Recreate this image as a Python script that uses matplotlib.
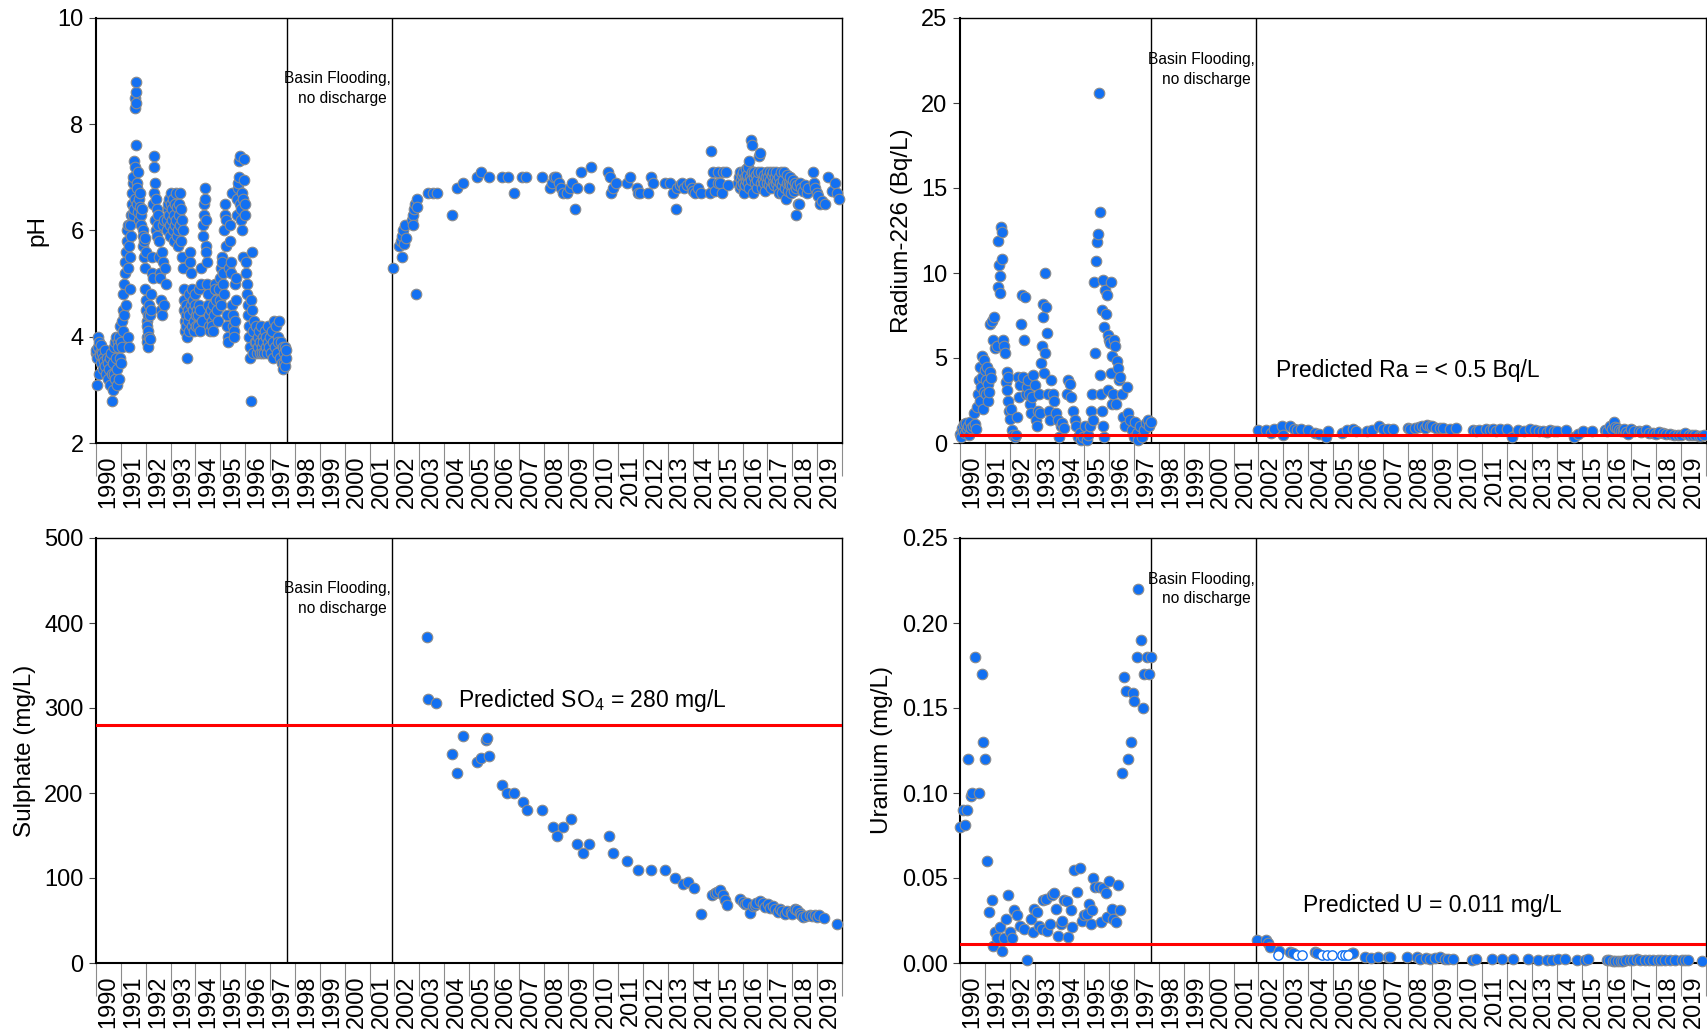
import matplotlib
matplotlib.use("Agg")
import matplotlib.pyplot as plt
import numpy as np

plt.rcParams['font.family'] = ['Liberation Sans', 'DejaVu Sans']
plt.rcParams['mathtext.fontset'] = 'custom'
plt.rcParams['mathtext.rm'] = 'Liberation Sans'
plt.rcParams['mathtext.default'] = 'regular'

# ---------------- data ----------------
years = list(range(1990, 2020))
gap_start, gap_end = 1997.67, 2001.9

ph_early = [
 (1990.00,3.7),(1990.02,3.75),(1990.04,3.1),(1990.05,3.6),(1990.07,4.0),(1990.09,3.8),(1990.11,3.3),(1990.13,3.9),(1990.15,3.7),(1990.17,3.65),(1990.2,3.85),(1990.22,3.5),(1990.25,3.7),(1990.28,3.6),(1990.3,3.4),(1990.33,3.55),(1990.36,3.75),(1990.38,3.45),(1990.41,3.3),(1990.44,3.6),(1990.47,3.5),(1990.5,3.2),
 (1990.53,3.4),(1990.56,3.6),(1990.58,3.1),(1990.61,3.7),(1990.63,3.3),(1990.66,2.8),(1990.68,3.5),(1990.7,3.0),(1990.72,3.8),(1990.74,3.3),(1990.76,3.9),(1990.78,3.2),(1990.8,4.0),(1990.82,3.6),(1990.84,3.1),(1990.86,3.4),(1990.88,3.9),
 (1990.9,3.8),(1990.92,4.0),(1990.94,3.2),(1990.96,3.6),(1990.98,4.2),(1991.0,3.5),(1991.02,3.9),(1991.04,4.3),(1991.05,3.8),
 (1991.07,4.5),(1991.09,4.1),(1991.1,4.8),(1991.12,5.0),(1991.14,4.4),(1991.16,5.2),(1991.18,5.4),(1991.2,4.6),(1991.22,5.6),(1991.24,5.8),(1991.26,6.0),(1991.27,5.3),(1991.29,6.1),(1991.3,4.0),(1991.32,5.7),(1991.34,3.8),(1991.36,4.9),(1991.37,5.5),
 (1991.38,6.1),(1991.4,6.3),(1991.42,5.9),(1991.43,6.5),(1991.45,6.7),(1991.47,6.3),(1991.48,6.9),(1991.5,7.0),(1991.52,6.4),(1991.53,7.3),(1991.55,6.6),(1991.56,7.2),(1991.57,8.3),(1991.58,8.5),(1991.59,8.6),(1991.6,8.8),(1991.61,8.4),(1991.62,7.6),(1991.63,6.9),(1991.65,6.5),(1991.66,6.8),(1991.68,6.35),(1991.7,7.1),(1991.72,6.6),(1991.74,6.2),(1991.76,6.45),(1991.78,6.7),(1991.8,6.3),(1991.82,6.1),(1991.85,6.4),
 (1991.87,6.0),(1991.89,5.9),(1991.9,5.7),(1991.92,5.8),(1991.94,5.5),(1991.96,5.3),(1991.97,5.85),(1991.99,4.9),(1992.0,4.7),(1992.02,5.6),
 (1992.03,4.5),(1992.04,4.3),(1992.05,4.0),(1992.06,4.2),(1992.07,3.9),(1992.08,4.4),(1992.1,3.8),(1992.11,4.1),(1992.13,4.6),(1992.15,4.0),(1992.17,4.4),(1992.19,3.95),(1992.2,4.5),(1992.22,4.8),(1992.24,5.5),(1992.26,5.2),(1992.28,5.1),
 (1992.3,6.5),(1992.32,6.7),(1992.34,7.4),(1992.35,7.2),(1992.36,6.9),(1992.38,6.2),(1992.4,6.0),(1992.42,6.6),(1992.44,6.4),(1992.46,5.9),(1992.48,6.3),(1992.5,6.1),
 (1992.52,5.8),(1992.54,5.5),(1992.56,5.2),(1992.58,5.1),(1992.6,4.7),(1992.62,4.5),(1992.64,4.4),(1992.66,5.6),(1992.68,5.4),(1992.7,6.1),(1992.72,6.2),(1992.74,4.6),(1992.76,5.3),(1992.8,5.0),
 (1992.84,6.0),(1992.86,6.2),(1992.88,6.4),(1992.9,6.5),(1992.92,6.6),(1992.94,6.3),(1992.96,6.1),(1992.98,5.9),(1993.0,6.7),(1993.02,6.5),(1993.04,6.2),(1993.06,6.4),(1993.08,6.0),(1993.1,6.6),(1993.12,6.3),(1993.14,5.8),(1993.16,6.5),(1993.18,6.1),(1993.2,6.7),(1993.22,6.2),(1993.24,5.9),(1993.26,6.45),(1993.28,6.0),(1993.3,5.7),(1993.32,6.3),(1993.34,6.5),(1993.36,6.7),(1993.38,6.1),(1993.4,5.8),(1993.42,6.4),(1993.44,6.2),(1993.46,5.5),(1993.48,6.0),(1993.5,5.3),
 (1993.52,4.9),(1993.54,4.7),(1993.55,4.5),(1993.57,4.3),(1993.58,4.1),(1993.6,4.4),(1993.62,4.6),(1993.63,4.2),(1993.65,4.0),(1993.66,3.6),(1993.68,4.5),(1993.7,4.3),(1993.72,4.8),(1993.74,4.1),(1993.76,4.4),(1993.78,5.6),(1993.8,5.4),(1993.82,4.6),(1993.84,5.2),(1993.86,4.2),(1993.88,4.9),(1993.9,4.7),(1993.92,4.5),(1993.94,4.3),(1993.96,4.1),(1993.98,4.6),(1994.0,4.8),(1994.02,4.4),(1994.04,4.2),(1994.06,4.5),
 (1994.1,4.2),(1994.12,4.4),(1994.14,4.6),(1994.16,4.9),(1994.18,4.1),(1994.2,4.5),(1994.22,5.3),(1994.24,5.0),(1994.26,4.3),
 (1994.3,5.9),(1994.32,6.1),(1994.34,6.3),(1994.36,6.5),(1994.38,6.6),(1994.4,6.8),(1994.41,6.2),(1994.43,5.7),(1994.44,5.6),(1994.46,5.4),(1994.48,5.0),(1994.5,4.8),(1994.52,4.6),(1994.54,4.4),(1994.56,4.2),(1994.58,4.1),
 (1994.62,4.5),(1994.65,4.3),(1994.68,4.2),(1994.7,4.6),(1994.72,4.1),(1994.75,4.4),(1994.78,5.0),(1994.8,4.9),(1994.83,4.7),(1994.86,4.5),(1994.9,4.3),
 (1994.95,4.9),(1994.97,5.1),(1995.0,4.7),(1995.02,5.3),(1995.04,4.6),(1995.06,5.5),(1995.08,5.4),(1995.1,5.2),(1995.12,5.0),(1995.14,4.8),(1995.16,6.0),(1995.18,6.3),(1995.2,6.5),(1995.22,6.2),(1995.24,5.7),(1995.26,4.4),(1995.28,4.2),(1995.3,4.0),(1995.32,3.9),(1995.46,6.7),(1995.36,5.3),
 (1995.38,6.1),(1995.4,5.8),(1995.42,5.4),(1995.44,5.2),(1995.48,4.6),(1995.5,4.4),(1995.52,4.2),(1995.54,4.1),(1995.56,4.0),(1995.58,4.3),(1995.6,5.0),(1995.62,5.1),(1995.64,4.7),
 (1995.66,6.3),(1995.68,6.6),(1995.7,6.8),(1995.72,6.9),(1995.74,7.0),(1995.76,7.3),(1995.78,7.4),(1995.8,6.5),(1995.82,6.4),(1995.84,6.2),(1995.86,6.7),(1995.88,6.0),(1995.9,6.6),(1995.92,5.5),(1995.94,6.95),(1995.96,7.35),(1995.98,6.3),(1996.0,6.5),
 (1996.02,5.4),(1996.04,5.2),(1996.06,5.0),(1996.08,4.8),(1996.1,4.6),(1996.12,4.4),(1996.14,4.2),(1996.16,4.0),(1996.18,3.8),(1996.2,3.6),(1996.22,2.8),(1996.24,4.7),(1996.26,4.5),(1996.28,5.6),(1996.3,3.7),(1996.32,4.1),(1996.35,4.3),(1996.38,3.9),
 (1996.42,4.2),(1996.45,3.9),(1996.48,3.7),(1996.5,4.0),(1996.53,3.8),(1996.56,4.1),(1996.58,3.7),(1996.6,3.9),(1996.63,4.2),(1996.66,3.8),(1996.68,3.7),(1996.7,4.0),(1996.73,3.9),(1996.76,3.7),(1996.79,4.1),(1996.82,3.8),(1996.85,4.0),(1996.88,3.7),(1996.9,3.9),(1996.93,4.2),(1996.96,3.8),(1997.0,4.0),(1997.03,3.7),(1997.06,4.1),(1997.1,3.6),(1997.13,3.9),(1997.16,4.3),(1997.2,3.8),(1997.23,4.2),(1997.26,3.7),(1997.3,4.0),(1997.33,3.9),(1997.36,4.3),(1997.4,3.6),(1997.43,3.9),(1997.46,3.5),(1997.5,3.8),(1997.53,3.4),(1997.56,3.7),(1997.58,3.5),(1997.6,3.8),(1997.62,3.45),(1997.64,3.6),(1997.66,3.75),
]

ph_late = [
 (2001.93,5.3),(2002.2,5.7),(2002.25,5.8),(2002.29,5.5),(2002.3,5.9),(2002.34,6.0),(2002.38,5.75),(2002.42,6.1),(2002.45,5.85),(2002.7,6.2),(2002.74,6.3),(2002.76,6.1),(2002.8,6.4),(2002.83,6.5),(2002.86,4.8),(2002.89,6.6),(2002.9,6.45),
 (2003.36,6.7),(2003.56,6.7),(2003.72,6.7),(2004.3,6.3),(2004.5,6.8),(2004.74,6.9),(2005.31,7.0),(2005.48,7.1),(2005.82,7.0),(2006.31,7.0),(2006.55,7.0),(2006.81,6.7),(2007.15,7.0),(2007.28,7.0),(2007.95,7.0),
 (2008.25,6.8),(2008.32,6.9),(2008.4,7.0),(2008.5,7.0),(2008.6,6.9),(2008.7,6.8),(2008.8,6.7),(2008.95,6.7),(2009.05,6.8),(2009.15,6.9),(2009.25,6.4),(2009.35,6.8),(2009.5,7.1),(2009.82,6.8),(2009.89,7.2),
 (2010.6,7.1),(2010.67,7.0),(2010.73,6.7),(2010.8,6.8),(2010.91,6.9),(2011.36,6.9),(2011.47,7.0),(2011.74,6.8),(2011.81,6.7),(2011.87,6.7),(2012.21,6.7),(2012.3,7.0),(2012.41,6.9),
 (2012.88,6.9),(2013.08,6.9),(2013.21,6.7),(2013.31,6.4),(2013.35,6.8),(2013.5,6.85),(2013.55,6.9),(2013.64,6.8),(2013.75,6.85),(2013.88,6.9),(2013.95,6.8),(2014.02,6.75),(2014.09,6.7),(2014.22,6.8),(2014.31,6.7),
 (2014.69,6.7),(2014.73,7.5),(2014.76,6.9),(2014.82,7.1),(2014.89,6.75),(2015.0,6.9),(2015.02,7.1),(2015.09,6.9),(2015.16,6.7),(2015.22,7.1),(2015.33,7.1),(2015.4,6.85),
 (2015.83,6.9),(2015.86,7.0),(2015.88,6.8),(2015.9,7.1),(2015.92,6.95),(2015.95,6.85),(2015.97,7.05),(2016.0,6.9),(2016.02,7.1),(2016.04,6.75),(2016.06,6.7),(2016.08,7.0),(2016.1,6.85),(2016.12,7.15),(2016.14,6.95),(2016.16,7.0),(2016.18,7.05),(2016.2,7.2),(2016.22,6.9),(2016.26,7.3),(2016.28,6.8),(2016.3,7.0),(2016.33,6.95),(2016.36,7.7),(2016.38,7.6),(2016.4,7.1),(2016.42,6.7),(2016.45,7.0),(2016.48,7.1),(2016.51,6.9),(2016.54,7.05),(2016.57,6.8),(2016.6,6.95),(2016.63,7.1),(2016.66,7.4),(2016.7,7.45),(2016.73,6.9),(2016.76,7.1),(2016.79,6.8),(2016.82,6.95),(2016.85,7.05),(2016.88,6.9),(2016.91,6.75),(2016.94,7.0),(2016.97,7.1),
 (2017.0,6.9),(2017.03,7.0),(2017.06,6.85),(2017.09,7.1),(2017.12,6.95),(2017.15,6.8),(2017.18,7.05),(2017.21,6.9),(2017.24,7.1),(2017.27,6.85),(2017.3,7.0),(2017.33,6.9),(2017.36,7.1),(2017.39,6.95),(2017.42,6.8),(2017.45,6.7),(2017.48,7.0),(2017.51,6.9),(2017.54,7.1),(2017.57,6.85),(2017.6,6.7),(2017.63,6.95),(2017.66,7.1),(2017.69,6.8),(2017.74,6.6),(2017.78,6.9),(2017.8,7.05),(2017.83,6.75),(2017.86,6.9),(2017.89,6.85),(2017.92,7.0),(2017.95,6.7),(2017.98,6.85),
 (2018.01,6.95),(2018.05,6.75),(2018.1,6.9),(2018.15,6.8),(2018.17,6.3),(2018.2,6.85),(2018.22,6.5),(2018.26,6.5),(2018.3,6.9),(2018.36,6.8),(2018.42,6.75),(2018.5,6.85),(2018.58,6.7),(2018.65,6.8),
 (2018.84,7.1),(2018.88,6.9),(2018.91,6.8),(2018.98,6.7),(2019.05,6.65),(2019.1,6.5),(2019.18,6.55),(2019.3,6.5),(2019.44,7.0),(2019.6,6.75),(2019.7,6.9),(2019.8,6.7),(2019.88,6.6),
]

ra_early = [
 (1990.00,0.55),(1990.04,0.35),(1990.08,0.9),(1990.12,0.7),(1990.16,1.1),(1990.2,0.6),(1990.24,1.2),(1990.28,0.8),(1990.32,1.0),(1990.36,0.5),(1990.4,1.25),(1990.45,0.9),(1990.52,1.0),(1990.55,1.75),(1990.6,1.1),(1990.64,0.8),
 (1990.7,2.1),(1990.73,2.9),(1990.76,3.7),(1990.79,2.5),(1990.82,4.5),(1990.85,3.3),(1990.88,5.1),(1990.9,3.9),(1990.93,2.0),(1990.96,4.9),(1990.98,3.0),(1991.01,4.3),(1991.04,2.9),(1991.06,3.7),(1991.09,4.5),(1991.12,3.5),(1991.14,2.5),(1991.17,3.0),(1991.19,4.2),(1991.2,7.0),(1991.24,3.8),(1991.3,7.2),(1991.34,6.05),(1991.38,7.4),(1991.4,5.6),(1991.47,5.7),
 (1991.51,11.9),(1991.54,9.2),(1991.57,10.5),(1991.6,9.8),(1991.62,8.8),(1991.65,12.7),(1991.68,10.8),(1991.7,12.4),(1991.74,6.05),(1991.78,5.7),(1991.81,5.3),(1991.84,3.6),(1991.87,3.1),(1991.9,4.2),(1991.92,3.9),(1991.94,2.5),(1991.97,1.9),(1992.0,1.4),(1992.04,2.0),(1992.08,0.76),(1992.14,0.47),(1992.2,0.37),(1992.25,0.5),(1992.3,1.55),
 (1992.35,3.9),(1992.38,2.7),(1992.41,3.4),(1992.45,7.0),(1992.48,8.7),(1992.52,3.9),(1992.57,6.05),(1992.61,8.6),(1992.65,2.9),(1992.68,3.3),(1992.72,3.7),(1992.76,2.9),(1992.8,2.3),(1992.85,1.75),(1992.9,2.7),(1992.94,4.0),(1993.0,3.4),(1993.04,1.35),(1993.08,1.0),(1993.13,1.9),(1993.18,2.9),(1993.2,1.75),
 (1993.24,4.7),(1993.28,5.7),(1993.32,8.2),(1993.35,7.4),(1993.38,4.1),(1993.4,5.3),(1993.42,10.0),(1993.45,8.0),(1993.5,6.5),(1993.54,2.9),(1993.58,1.9),(1993.62,1.35),(1993.67,3.7),(1993.72,2.9),(1993.8,2.5),(1993.85,1.75),(1993.95,1.35),(1994.0,0.37),(1994.05,1.0),(1994.1,1.15),(1994.2,0.9),
 (1994.3,2.9),(1994.36,3.7),(1994.42,3.5),(1994.48,2.7),(1994.55,1.9),(1994.62,1.35),(1994.68,1.0),(1994.75,0.37),(1994.82,0.57),(1994.88,0.18),(1994.95,0.37),(1995.02,1.0),(1995.1,0.2),(1995.16,0.5),(1995.23,1.0),(1995.28,1.9),(1995.32,2.9),(1995.35,1.35),
 (1995.4,9.5),(1995.43,5.3),(1995.47,10.7),(1995.52,11.8),(1995.56,12.3),(1995.59,20.6),(1995.62,13.6),(1995.65,4.0),(1995.68,2.9),(1995.7,7.8),(1995.72,1.9),(1995.74,1.0),(1995.76,9.6),(1995.78,0.37),(1995.8,6.8),(1995.83,9.0),(1995.86,7.6),(1995.9,8.7),(1995.94,6.35),(1995.97,3.1),
 (1996.0,6.05),(1996.03,5.9),(1996.06,4.1),(1996.08,9.5),(1996.1,5.1),(1996.13,2.3),(1996.16,2.9),(1996.2,6.05),(1996.23,5.7),(1996.27,2.3),(1996.3,4.8),(1996.35,4.4),(1996.4,3.7),(1996.45,3.9),(1996.5,2.9),(1996.56,1.55),(1996.62,1.0),(1996.7,3.3),
 (1996.77,1.75),(1996.85,1.35),(1996.92,0.76),(1997.0,0.37),(1997.05,1.25),(1997.12,0.57),(1997.17,0.18),(1997.25,1.0),(1997.32,0.37),(1997.4,0.76),(1997.48,1.15),(1997.56,1.35),(1997.62,1.0),(1997.68,1.25),
]

ra_late = [
 (2002.0,0.75),(2002.29,0.75),(2002.5,0.57),(2002.64,0.84),(2002.93,0.98),(2002.97,0.45),(2003.29,0.98),(2003.43,0.84),(2003.57,0.75),(2003.71,0.84),(2004.0,0.75),(2004.29,0.57),(2004.43,0.52),(2004.71,0.34),(2004.79,0.68),
 (2005.36,0.57),(2005.57,0.75),(2005.79,0.84),(2005.93,0.68),(2006.36,0.68),(2006.57,0.75),(2006.86,0.98),(2007.0,0.8),(2007.21,0.84),(2007.43,0.8),
 (2008.0,0.9),(2008.1,0.85),(2008.29,0.9),(2008.45,0.95),(2008.57,0.98),(2008.7,0.9),(2008.79,1.07),(2008.9,1.0),(2009.0,0.98),(2009.14,0.9),(2009.3,0.88),(2009.43,0.9),(2009.71,0.84),(2009.93,0.9),
 (2010.64,0.75),(2010.75,0.7),(2010.86,0.75),(2011.14,0.8),(2011.3,0.75),(2011.43,0.8),(2011.55,0.72),(2011.71,0.84),(2012.0,0.8),(2012.21,0.34),(2012.43,0.75),(2012.7,0.7),(2012.93,0.8),
 (2013.14,0.75),(2013.3,0.72),(2013.43,0.68),(2013.6,0.65),(2013.71,0.75),(2013.9,0.7),(2014.0,0.68),(2014.36,0.75),(2014.71,0.34),(2014.86,0.52),(2015.07,0.68),(2015.43,0.68),
 (2015.93,0.75),(2016.0,0.7),(2016.14,0.98),(2016.2,0.8),(2016.29,1.25),(2016.35,0.95),(2016.43,0.9),(2016.5,0.75),(2016.57,0.68),(2016.65,0.7),(2016.71,0.84),(2016.8,0.65),(2016.86,0.52),(2017.0,0.8),(2017.1,0.7),(2017.29,0.68),(2017.4,0.65),(2017.57,0.75),(2017.71,0.61),(2017.85,0.6),
 (2018.0,0.52),(2018.1,0.62),(2018.29,0.57),(2018.4,0.55),(2018.57,0.52),(2018.7,0.5),(2018.86,0.45),(2019.0,0.5),(2019.14,0.57),(2019.3,0.5),(2019.43,0.45),(2019.55,0.45),(2019.71,0.39),(2019.8,0.42),(2019.93,0.45),
]

so4 = [
 (2003.30,384),(2003.36,311),(2003.67,306),(2004.3,246),(2004.5,223),(2004.74,267),(2005.31,237),(2005.48,241),(2005.7,262),(2005.72,265),(2005.82,244),
 (2006.33,210),(2006.54,200),(2006.8,200),(2007.18,190),(2007.32,180),(2007.95,180),(2008.39,160),(2008.52,150),(2008.8,160),(2009.09,170),(2009.33,140),(2009.57,130),(2009.82,140),
 (2010.63,150),(2010.8,130),(2011.36,120),(2011.81,110),(2012.3,110),(2012.9,110),(2013.28,100),(2013.61,93),(2013.8,95),(2014.05,88),(2014.31,58),
 (2014.78,80),(2014.9,82),(2014.96,84),(2015.09,86),(2015.2,80),(2015.29,74),(2015.38,68),
 (2015.9,75),(2016.03,72),(2016.1,70),(2016.16,71),(2016.3,59),(2016.43,67),(2016.5,68),(2016.56,71),(2016.7,73),(2016.83,71),(2016.9,66),(2017.03,69),(2017.1,65),(2017.21,67),(2017.3,63),(2017.44,60),(2017.5,63),(2017.57,61),(2017.7,58),(2017.77,61),(2017.93,60),
 (2018.0,58),(2018.1,64),(2018.2,62),(2018.3,59),(2018.35,57),(2018.44,54),(2018.55,55),(2018.71,56),(2018.8,55),(2018.91,57),(2019.0,54),(2019.08,56),(2019.27,53),(2019.78,46),
]

u_early = [
 (1990.0,0.080),(1990.13,0.090),(1990.2,0.081),(1990.27,0.090),(1990.34,0.12),(1990.44,0.098),(1990.5,0.10),(1990.6,0.18),(1990.78,0.10),(1990.87,0.17),(1990.94,0.13),(1991.0,0.12),
 (1991.1,0.06),(1991.18,0.030),(1991.27,0.037),(1991.34,0.010),(1991.4,0.018),(1991.5,0.015),(1991.6,0.021),(1991.67,0.007),(1991.77,0.0145),(1991.85,0.026),(1991.94,0.040),
 (1992.0,0.018),(1992.1,0.0145),(1992.17,0.031),(1992.3,0.028),(1992.4,0.022),(1992.57,0.020),(1992.68,0.002),(1992.84,0.0257),(1992.92,0.018),(1992.98,0.0315),
 (1993.08,0.030),(1993.18,0.022),(1993.28,0.020),(1993.35,0.037),(1993.45,0.0375),(1993.5,0.019),(1993.6,0.023),(1993.69,0.040),(1993.78,0.041),(1993.85,0.032),(1993.95,0.016),
 (1994.05,0.023),(1994.1,0.025),(1994.18,0.037),(1994.29,0.0367),(1994.35,0.0155),(1994.45,0.031),(1994.5,0.021),(1994.58,0.055),(1994.72,0.042),(1994.83,0.056),(1994.92,0.025),
 (1995.0,0.028),(1995.1,0.029),(1995.19,0.035),(1995.25,0.023),(1995.32,0.031),(1995.36,0.050),(1995.43,0.045),(1995.6,0.045),(1995.67,0.024),(1995.76,0.044),(1995.86,0.041),(1995.92,0.027),
 (1996.0,0.048),(1996.1,0.032),(1996.17,0.026),(1996.26,0.024),(1996.34,0.046),(1996.43,0.031),(1996.5,0.112),(1996.6,0.168),(1996.68,0.16),(1996.74,0.12),(1996.86,0.13),(1996.94,0.159),
 (1997.0,0.154),(1997.1,0.18),(1997.17,0.22),(1997.27,0.19),(1997.35,0.15),(1997.4,0.17),(1997.5,0.18),(1997.59,0.17),(1997.68,0.18),
]

u_late = [
 (2001.93,0.0135),(2002.3,0.0135),(2002.4,0.012),(2002.46,0.0092),(2002.84,0.0072),(2003.27,0.0067),(2003.4,0.0057),(2004.27,0.0067),(2004.37,0.006),(2005.75,0.0057),(2005.82,0.0057),
 (2006.28,0.0037),(2006.51,0.0027),(2006.82,0.0037),(2007.22,0.0037),(2007.29,0.0037),(2007.96,0.0033),(2008.39,0.0033),(2008.5,0.0025),(2008.76,0.0027),(2008.92,0.0025),(2009.1,0.0027),(2009.3,0.0033),(2009.5,0.0025),(2009.64,0.0025),(2009.84,0.0025),
 (2010.57,0.0018),(2010.77,0.0022),(2011.38,0.0022),(2011.78,0.0022),(2012.25,0.0022),(2012.85,0.0022),(2013.25,0.0018),(2013.59,0.0018),(2013.79,0.0018),(2014.06,0.0022),(2014.33,0.0025),(2014.8,0.0018),(2015.13,0.0018),(2015.26,0.0025),
 (2016.0,0.0018),(2016.1,0.0016),(2016.27,0.0014),(2016.35,0.0012),(2016.47,0.0014),(2016.57,0.0013),(2016.67,0.0014),(2016.8,0.0016),(2016.94,0.0018),(2017.05,0.0018),(2017.21,0.0022),(2017.35,0.0016),(2017.54,0.0018),(2017.7,0.0017),(2017.88,0.0018),
 (2018.08,0.0018),(2018.2,0.0016),(2018.35,0.0018),(2018.55,0.0017),(2018.75,0.0018),(2019.02,0.0018),(2019.15,0.0016),(2019.29,0.0018),(2019.82,0.0014),
]

u_nondetect = [
 (2002.8,0.0047),(2003.54,0.0047),(2003.74,0.0047),(2004.54,0.0047),(2004.74,0.0047),(2004.94,0.0047),(2005.35,0.0047),(2005.48,0.0047),(2005.61,0.0047),
]

ra_target = 0.5
so4_target = 280
u_target = 0.011

# ---------------- style ----------------
BLUE = '#1270F2'
EDGE = '#8C8C8C'
W, H = 1707, 1031
fig = plt.figure(figsize=(W/100, H/100), dpi=100)
fig.patch.set_facecolor('white')

def box(l, t, r, b):
    return [l/W, 1 - b/H, (r-l)/W, (b-t)/H]

ax_ph = fig.add_axes(box(96, 18, 842, 443))
ax_ra = fig.add_axes(box(960, 18, 1706, 443))
ax_so = fig.add_axes(box(96, 538, 842, 963))
ax_u = fig.add_axes(box(960, 538, 1706, 963))

def style(ax, ylim, yticks, ylabel, fmt=None):
    ax.set_xlim(1990, 2020)
    ax.set_ylim(*ylim)
    ax.set_xticks(list(range(1990, 2021)))
    ax.set_xticklabels([])
    ax.set_xticks([y + 0.5 for y in years], minor=True)
    ax.set_xticklabels([str(y) for y in years], minor=True, rotation=90, fontsize=17)
    ax.tick_params(axis='x', which='major', length=24, width=0.8, color='#8C8C8C', direction='out')
    ax.tick_params(axis='x', which='minor', length=0, pad=9)
    ax.set_yticks(yticks)
    if fmt:
        ax.set_yticklabels([fmt % v for v in yticks])
    ax.tick_params(axis='y', length=5, width=0.8, color='#404040', labelsize=17, pad=4)
    ax.set_ylabel(ylabel, fontsize=17.5, labelpad=6)
    for s in ['left', 'bottom']:
        ax.spines[s].set_linewidth(1.5)
    for s in ['top', 'right']:
        ax.spines[s].set_linewidth(1.0)
    ax.axvline(gap_start, color='black', lw=1.0, zorder=2)
    ax.axvline(gap_end, color='black', lw=1.0, zorder=2)

def pts(ax, data, **kw):
    x = [d[0] for d in data]
    y = [d[1] for d in data]
    ax.scatter(x, y, s=58, c=BLUE, edgecolors=EDGE, linewidths=0.8, zorder=3, clip_on=False, **kw)

BASIN_FS = 11.2

# pH
style(ax_ph, (2, 10), [2, 4, 6, 8, 10], 'pH')
pts(ax_ph, ph_early)
pts(ax_ph, ph_late)
ax_ph.text(gap_end - 0.05, 8.67, 'Basin Flooding,\nno discharge ', ha='right', va='center',
           multialignment='right', fontsize=BASIN_FS, linespacing=1.4)

# Radium
style(ax_ra, (0, 25), [0, 5, 10, 15, 20, 25], 'Radium-226 (Bq/L)')
pts(ax_ra, ra_early)
pts(ax_ra, ra_late)
ax_ra.axhline(ra_target, color='#FF0000', lw=2.2, zorder=4)
ax_ra.text(gap_end - 0.05, 21.95, 'Basin Flooding,\nno discharge ', ha='right', va='center',
           multialignment='right', fontsize=BASIN_FS, linespacing=1.4)
ax_ra.text(2002.7, 4.25, 'Predicted Ra = < 0.5 Bq/L', ha='left', va='center', fontsize=16.5)

# Sulphate
style(ax_so, (0, 500), [0, 100, 200, 300, 400, 500], 'Sulphate (mg/L)')
pts(ax_so, so4)
ax_so.axhline(so4_target, color='#FF0000', lw=2.2, zorder=4)
ax_so.text(gap_end - 0.05, 429, 'Basin Flooding,\nno discharge ', ha='right', va='center',
           multialignment='right', fontsize=BASIN_FS, linespacing=1.4)
ax_so.text(2004.55, 309, 'Predicted SO$_4$ = 280 mg/L', ha='left', va='center', fontsize=16.5)

# Uranium
style(ax_u, (0, 0.25), [0, 0.05, 0.10, 0.15, 0.20, 0.25], 'Uranium (mg/L)', fmt='%.2f')
pts(ax_u, u_early)
pts(ax_u, u_late)
ax_u.scatter([d[0] for d in u_nondetect], [d[1] for d in u_nondetect], s=45,
             facecolors='white', edgecolors=BLUE, linewidths=1.0, zorder=3, clip_on=False)
ax_u.axhline(u_target, color='#FF0000', lw=2.2, zorder=4)
ax_u.text(gap_end - 0.05, 0.22, 'Basin Flooding,\nno discharge ', ha='right', va='center',
          multialignment='right', fontsize=BASIN_FS, linespacing=1.4)
ax_u.text(2003.8, 0.034, 'Predicted U = 0.011 mg/L', ha='left', va='center', fontsize=16.5)

fig.savefig('out.png', dpi=100, facecolor='white')
